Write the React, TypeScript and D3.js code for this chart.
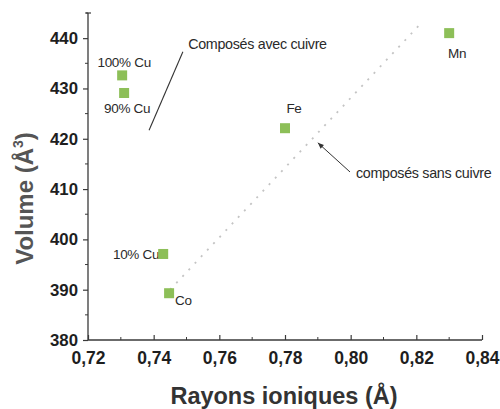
import React, { useEffect, useRef } from 'react';
import * as d3 from 'd3';

// compounds: ionic radius (Å) vs cell volume (Å^3)
const names = ['100% Cu', '90% Cu', 'Fe', 'Mn', '10% Cu', 'Co'];
const radii = [0.7304, 0.7310, 0.7800, 0.8300, 0.7429, 0.7447];
const volumes = [432.6, 429.1, 422.1, 441.0, 397.1, 389.3];

// dotted trend line (compounds without copper)
const fitX = [0.7450, 0.8215];
const fitY = [390.0, 443.0];

const xTicks = [0.72, 0.74, 0.76, 0.78, 0.80, 0.82, 0.84];
const xMinor = [0.73, 0.75, 0.77, 0.79, 0.81, 0.83];
const yTicks = [380, 390, 400, 410, 420, 430, 440];
const yMinor = [385, 395, 405, 415, 425, 435, 445];

// annotations (data coords)
const noteWith = { text: 'Composés avec cuivre', x: 0.7505, y: 438.8, from: [0.7489, 437.3], to: [0.7386, 421.7] };
const noteWithout = { text: 'composés sans cuivre', x: 0.8016, y: 413.2, from: [0.7998, 413.4], to: [0.7900, 419.2] };

// label placement relative to marker [dx, dy, anchor]
const labelPos: [number, number, string][] = [
    [2, -13, 'middle'],
    [3, 15, 'middle'],
    [9, -20, 'middle'],
    [8, 20, 'middle'],
    [-4, 0, 'end'],
    [6, 7, 'start'],
];

const W = 500;
const H = 409;
const FONT = 'Arial, "Liberation Sans", Helvetica, sans-serif';

export default function App() {
    const svgRef = useRef<SVGSVGElement>(null);

    useEffect(() => {
        if (!svgRef.current) return;
        const svg = d3.select(svgRef.current);
        svg.selectAll('*').remove();

        const x = d3.scaleLinear().domain([0.72, 0.84]).range([88, 482]);
        const y = d3.scaleLinear().domain([380, 445]).range([340, 13]);

        const axisColor = '#3a3a3a';

        // dotted fit line
        svg.append('line')
            .attr('x1', x(fitX[0])).attr('y1', y(fitY[0]))
            .attr('x2', x(fitX[1])).attr('y2', y(fitY[1]))
            .attr('stroke', '#c4c4c4')
            .attr('stroke-width', 1.8)
            .attr('stroke-dasharray', '2,7');

        // y axis
        const gy = svg.append('g').attr('transform', `translate(${x(0.72)},0)`);
        gy.call(d3.axisLeft(y).tickValues(yTicks).tickSize(5).tickSizeOuter(0).tickPadding(5));
        gy.selectAll('.tick line').attr('stroke', axisColor).attr('stroke-width', 1.2);
        gy.select('.domain').remove();
        gy.selectAll('.tick text')
            .attr('font-family', FONT).attr('font-size', 16.8).attr('font-weight', 'bold')
            .attr('fill', '#1e1e1e');
        gy.selectAll('line.minor')
            .data(yMinor).enter().append('line')
            .attr('class', 'minor')
            .attr('x1', -3).attr('x2', 0)
            .attr('y1', d => y(d)).attr('y2', d => y(d))
            .attr('stroke', axisColor).attr('stroke-width', 1);
        gy.append('line')
            .attr('x1', 0).attr('x2', 0).attr('y1', y(445)).attr('y2', y(380))
            .attr('stroke', axisColor).attr('stroke-width', 1.3);
        gy.append('line')
            .attr('x1', -2).attr('x2', 3).attr('y1', y(445)).attr('y2', y(445))
            .attr('stroke', axisColor).attr('stroke-width', 1.2);

        // x axis
        const gx = svg.append('g').attr('transform', `translate(0,${y(380)})`);
        gx.call(d3.axisBottom(x).tickValues(xTicks).tickSize(-5).tickSizeOuter(0).tickPadding(12)
            .tickFormat(d => d3.format('.2f')(d as number).replace('.', ',')));
        gx.select('.domain').remove();
        gx.selectAll('.tick line').attr('stroke', axisColor).attr('stroke-width', 1.2);
        gx.selectAll('.tick text')
            .attr('font-family', FONT).attr('font-size', 17.5).attr('font-weight', 'bold')
            .attr('fill', '#1e1e1e');
        gx.selectAll('line.minor')
            .data(xMinor).enter().append('line')
            .attr('class', 'minor')
            .attr('x1', d => x(d)).attr('x2', d => x(d))
            .attr('y1', -3).attr('y2', 0)
            .attr('stroke', axisColor).attr('stroke-width', 1);
        gx.append('line')
            .attr('x1', x(0.72)).attr('x2', x(0.84)).attr('y1', 0).attr('y2', 0)
            .attr('stroke', axisColor).attr('stroke-width', 1.3);

        // axis titles
        svg.append('text')
            .attr('x', 284)
            .attr('y', 404)
            .attr('text-anchor', 'middle')
            .attr('font-family', FONT).attr('font-size', 23.5).attr('font-weight', 'bold')
            .attr('fill', '#333')
            .text('Rayons ioniques (Å)');

        const yt = svg.append('text')
            .attr('transform', `translate(33,${(y(380) + y(445)) / 2 + 22}) rotate(-90)`)
            .attr('text-anchor', 'middle')
            .attr('font-family', FONT).attr('font-size', 24).attr('font-weight', 'bold')
            .attr('fill', '#555');
        yt.append('tspan').text('Volume (Å');
        yt.append('tspan').attr('font-size', 14).attr('dy', -10).text('3');
        yt.append('tspan').attr('dy', 10).text(')');

        const idx = d3.range(names.length);

        // point labels (drawn under the markers)
        svg.selectAll('text.lbl')
            .data(idx).enter().append('text')
            .attr('class', 'lbl')
            .attr('x', i => x(radii[i]) + labelPos[i][0])
            .attr('y', i => y(volumes[i]) + labelPos[i][1])
            .attr('dy', '0.35em')
            .attr('text-anchor', i => labelPos[i][2])
            .attr('font-family', FONT).attr('font-size', 13.5)
            .attr('fill', '#2a2a2a')
            .attr('letter-spacing', -0.3)
            .text(i => names[i]);

        // markers
        svg.selectAll('rect.pt')
            .data(idx).enter().append('rect')
            .attr('class', 'pt')
            .attr('x', i => x(radii[i]) - 5)
            .attr('y', i => y(volumes[i]) - 5)
            .attr('width', 10).attr('height', 10)
            .attr('fill', '#8dbf58');

        // annotation: with copper
        svg.append('line')
            .attr('x1', x(noteWith.from[0])).attr('y1', y(noteWith.from[1]))
            .attr('x2', x(noteWith.to[0])).attr('y2', y(noteWith.to[1]))
            .attr('stroke', '#333').attr('stroke-width', 1.1);
        svg.append('text')
            .attr('x', x(noteWith.x)).attr('y', y(noteWith.y)).attr('dy', '0.35em')
            .attr('font-family', FONT).attr('font-size', 14.3).attr('fill', '#2a2a2a')
            .attr('letter-spacing', -0.3)
            .text(noteWith.text);

        // annotation: without copper (arrow)
        const ax1 = x(noteWithout.from[0]), ay1 = y(noteWithout.from[1]);
        const ax2 = x(noteWithout.to[0]), ay2 = y(noteWithout.to[1]);
        svg.append('line')
            .attr('x1', ax1).attr('y1', ay1).attr('x2', ax2).attr('y2', ay2)
            .attr('stroke', '#333').attr('stroke-width', 1);
        const ang = Math.atan2(ay2 - ay1, ax2 - ax1);
        const hl = 6, hw = 2.5;
        const bx = ax2 - hl * Math.cos(ang), by = ay2 - hl * Math.sin(ang);
        svg.append('path')
            .attr('d', `M${ax2},${ay2}L${bx - hw * Math.sin(ang)},${by + hw * Math.cos(ang)}L${bx + hw * Math.sin(ang)},${by - hw * Math.cos(ang)}Z`)
            .attr('fill', '#333');
        svg.append('text')
            .attr('x', x(noteWithout.x)).attr('y', y(noteWithout.y)).attr('dy', '0.35em')
            .attr('font-family', FONT).attr('font-size', 14.3).attr('fill', '#2a2a2a')
            .attr('letter-spacing', -0.3)
            .text(noteWithout.text);
    }, []);

    return (
        <svg
            ref={svgRef}
            width={W}
            height={H}
            style={{ position: 'absolute', left: 0, top: 0, background: '#fff' }}
        />
    );
}
